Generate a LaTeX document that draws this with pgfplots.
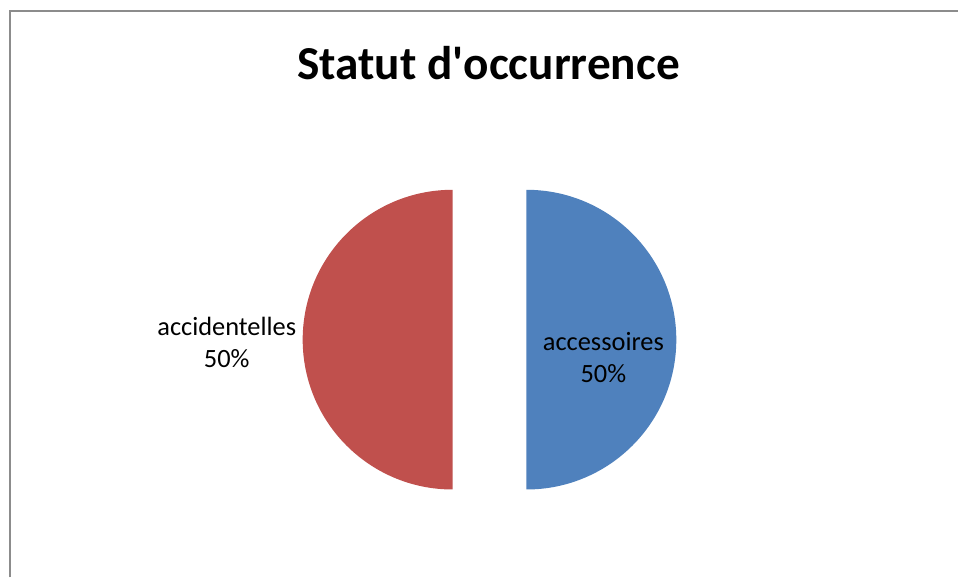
\documentclass[border=0pt]{standalone}
\usepackage{pgfplots}
\usepackage{pgfplotstable}
\pgfplotsset{compat=1.18}
\usepackage{fontspec}
\setmainfont{Carlito}
\definecolor{sliceblue}{HTML}{4F81BD}
\definecolor{slicered}{HTML}{C0504D}
\definecolor{framegray}{HTML}{8C8C8C}
\pgfplotstableread{
label value
accessoires 50
accidentelles 50
}\piedata
\begin{document}
\begin{tikzpicture}
\pgfplotstablegetelem{0}{value}\of\piedata \let\va\pgfplotsretval
\pgfplotstablegetelem{1}{value}\of\piedata \let\vb\pgfplotsretval
\pgfmathsetmacro{\tot}{\va+\vb}
\pgfmathsetmacro{\fa}{\va/\tot}
\pgfmathsetmacro{\fb}{\vb/\tot}
\pgfmathsetmacro{\aEnd}{90-360*\fa}
\pgfmathsetmacro{\aMid}{(90+\aEnd)/2}
\pgfmathsetmacro{\bEnd}{\aEnd-360*\fb}
\pgfmathsetmacro{\bMid}{(\aEnd+\bEnd)/2}
\pgfmathsetmacro{\axc}{490+37*cos(\aMid)}
\pgfmathsetmacro{\ayc}{238+37*sin(\aMid)}
\pgfmathsetmacro{\bxc}{490+37*cos(\bMid)}
\pgfmathsetmacro{\byc}{238+37*sin(\bMid)}
\begin{axis}[
  width=959bp, height=578bp, scale only axis,
  xmin=0, xmax=959, ymin=0, ymax=578,
  hide axis, clip=false,
]
\fill[white] (axis cs:0,0) rectangle (axis cs:959,578);
\draw[framegray, line width=2bp] (axis cs:10,0) -- (axis cs:10,567) -- (axis cs:959,567);
\fill[sliceblue] (axis cs:\axc,\ayc) -- ++(90:150bp) arc[start angle=90, end angle=\aEnd, radius=150bp] -- cycle;
\fill[slicered] (axis cs:\bxc,\byc) -- ++(\aEnd:150bp) arc[start angle=\aEnd, end angle=\bEnd, radius=150bp] -- cycle;
\node[font=\fontsize{47.5}{56}\selectfont\bfseries] at (axis cs:489,515) {Statut d\textquotesingle occurrence};
\node[font=\fontsize{26.5}{32}\selectfont, align=center] at (axis cs:604,220) {accessoires\\50\%};
\node[font=\fontsize{26.5}{32}\selectfont, align=center] at (axis cs:227,235) {accidentelles\\50\%};
\end{axis}
\end{tikzpicture}
\end{document}
